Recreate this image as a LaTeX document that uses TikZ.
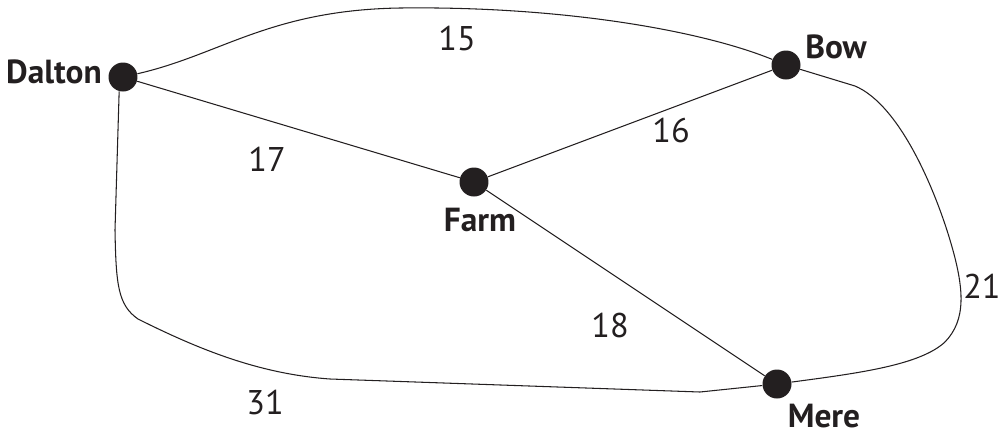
\documentclass[tikz,border=0pt]{standalone}
\usepackage{fontspec}
\setmainfont{PT Sans}
\begin{document}
\begin{tikzpicture}[x=0.02cm,y=-0.02cm,
  vert/.style={circle,fill=dotc,inner sep=0pt,minimum size=0.58cm},
  edge/.style={draw=dotc,line width=0.6pt},
  town/.style={font=\fontsize{19}{21}\selectfont\bfseries,text=dotc},
  wt/.style={font=\fontsize{19.5}{21}\selectfont,text=dotc}]
\definecolor{dotc}{HTML}{231F20}
\useasboundingbox (0,0) rectangle (1002,434);
\node[vert] (dalton) at (123,77) {};
\node[vert] (bow) at (786,65) {};
\node[vert] (farm) at (474,182) {};
\node[vert] (mere) at (777,384) {};
\node[town] (ldalton) at (54,72) {Dalton};
\node[town] (lbow) at (836,47) {Bow};
\node[town] (lfarm) at (480,220) {Farm};
\node[town] (lmere) at (824,416) {Mere};
\node[wt] (w15) at (457,39) {15};
\node[wt] (w17) at (267,159) {17};
\node[wt] (w16) at (671,131) {16};
\node[wt] (w18) at (610,325) {18};
\node[wt,inner sep=0pt,anchor=east] (w21) at (1001,286) {21};
\node[wt] (w31) at (265,403) {31};
\draw[edge] (dalton) -- (farm);
\draw[edge] (farm) -- (bow);
\draw[edge] (farm) -- (mere);
\draw[edge] (dalton) .. controls (220,55) and (270,10) .. (400,8)
  .. controls (560,6) and (700,30) .. (bow);
\draw[edge] (bow) -- (855,86) .. controls (900,105) and (935,190) .. (950,240)
  .. controls (965,290) and (966,320) .. (945,342)
  .. controls (920,365) and (860,373) .. (mere);
\draw[edge] (dalton.255) -- (115,230) .. controls (116,285) and (118,305) .. (138,319)
  .. controls (200,350) and (260,374) .. (330,379) -- (700,392) -- (mere);
\end{tikzpicture}
\end{document}
